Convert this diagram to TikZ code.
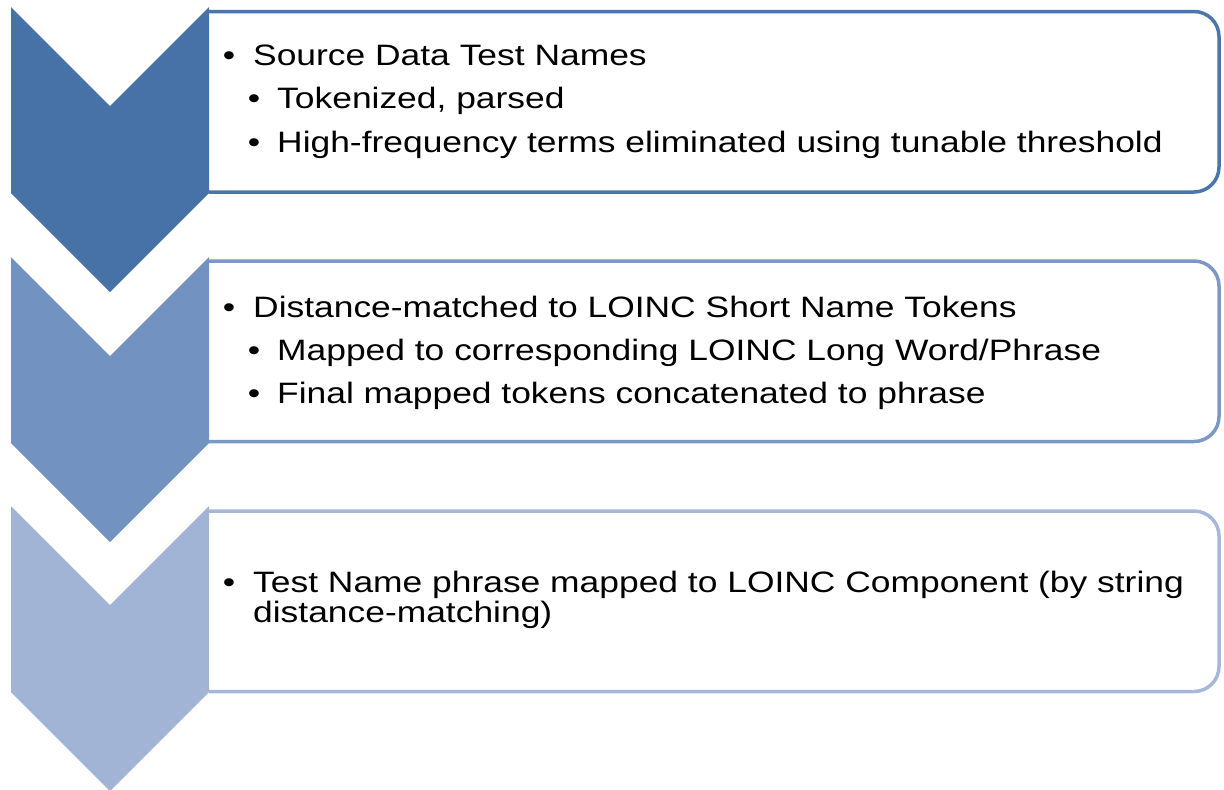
\documentclass[tikz,border=0pt]{standalone}
\usepackage{fontspec}
\newfontfamily\stepfont[FakeStretch=1.2]{Liberation Sans}
\usetikzlibrary{positioning}
\definecolor{chevA}{HTML}{4672A8}
\definecolor{chevB}{HTML}{7293C1}
\definecolor{chevC}{HTML}{A2B4D5}
\definecolor{boxA}{HTML}{4A76AB}
\definecolor{boxB}{HTML}{7C99C6}
\definecolor{boxC}{HTML}{A6B8D9}

\begin{document}
\begin{tikzpicture}[x=1pt, y=-1pt, font=\stepfont\fontsize{29.5}{34}\selectfont,
  line/.style={anchor=base west, inner sep=0pt},
  dot/.style={anchor=base, inner sep=0pt},
  frame/.style={line width=3.5pt, rounded corners=25pt}]
\useasboundingbox (0,0) rectangle (1224,790);

% boxes
\foreach \t/\c in {11.5/boxA, 261/boxB, 511/boxC}
  \draw[frame, draw=\c] (209,\t) -- (1219,\t) -- (1219,\t+180.5) -- (209,\t+180.5);

% chevrons
\foreach \t/\c in {7/chevA, 257/chevB, 506/chevC}
  \fill[\c] (11,\t) -- ++(99,99) -- ++(99,-99) -- ++(0,186) -- ++(-99,99) -- ++(-99,-99) -- cycle;

\node[dot] (b1) at (229,65) {•};
\node[line] (t1) at (253,65) {Source Data Test Names};
\node[dot] (b1a) at (254,108) {•};
\node[line] (t1a) at (277,108) {Tokenized, parsed};
\node[dot] (b1b) at (254,152) {•};
\node[line] (t1b) at (277,152) {High-frequency terms eliminated using tunable threshold};

\node[dot] (b2) at (229,317) {•};
\node[line] (t2) at (253,317) {Distance-matched to LOINC Short Name Tokens};
\node[dot] (b2a) at (254,360) {•};
\node[line] (t2a) at (277,360) {Mapped to corresponding LOINC Long Word/Phrase};
\node[dot] (b2b) at (254,403) {•};
\node[line] (t2b) at (277,403) {Final mapped tokens concatenated to phrase};

\node[dot] (b3) at (229,592) {•};
\node[line] (t3) at (253,592) {Test Name phrase mapped to LOINC Component (by string};
\node[line] (t3a) at (253,622) {distance-matching)};
\end{tikzpicture}
\end{document}
